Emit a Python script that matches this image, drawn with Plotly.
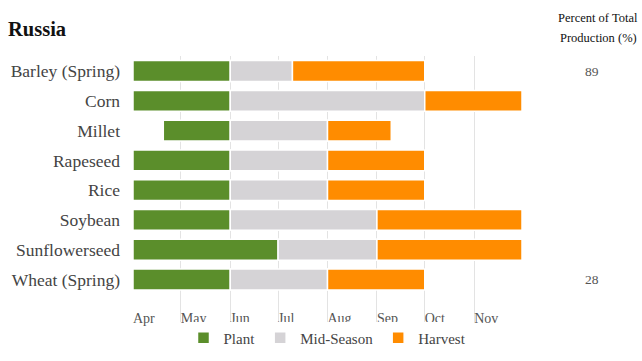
import plotly.graph_objects as go
import pandas as pd

crops = ["Barley (Spring)", "Corn", "Millet", "Rapeseed", "Rice", "Soybean", "Sunflowerseed", "Wheat (Spring)"]
plant_start = ["2023-04-01", "2023-04-01", "2023-04-20", "2023-04-01", "2023-04-01", "2023-04-01", "2023-04-01", "2023-04-01"]
plant_end   = ["2023-06-01", "2023-06-01", "2023-06-01", "2023-06-01", "2023-06-01", "2023-06-01", "2023-07-01", "2023-06-01"]
mid_end     = ["2023-07-10", "2023-10-01", "2023-08-01", "2023-08-01", "2023-08-01", "2023-09-01", "2023-09-01", "2023-08-01"]
harvest_end = ["2023-10-01", "2023-12-01", "2023-09-10", "2023-10-01", "2023-10-01", "2023-12-01", "2023-12-01", "2023-10-01"]
percent = {"Barley (Spring)": "89", "Wheat (Spring)": "28"}

month_ticks = ["2023-04-01", "2023-05-01", "2023-06-01", "2023-07-01", "2023-08-01",
               "2023-09-01", "2023-10-01", "2023-11-01", "2023-12-01"]
month_labels = ["Apr", "May", "Jun", "Jul", "Aug", "Sep", "Oct", "Nov", ""]

phases = [
    ("Plant", plant_start, plant_end, "#5b8e2b"),
    ("Mid-Season", plant_end, mid_end, "#d5d3d6"),
    ("Harvest", mid_end, harvest_end, "#ff8c00"),
]

fig = go.Figure()
for name, starts, ends, color in phases:
    s = pd.to_datetime(starts)
    e = pd.to_datetime(ends)
    dur = [(b - a).total_seconds() * 1000 for a, b in zip(s, e)]
    fig.add_trace(go.Bar(
        y=crops, x=dur, base=starts, orientation="h", name=name,
        marker=dict(color=color, line=dict(color="white", width=1.5)),
        width=0.7, hoverinfo="skip",
    ))

serif = "Liberation Serif, Times New Roman, serif"
fig.update_layout(
    width=642, height=361,
    margin=dict(l=133, r=120, t=56, b=32),
    paper_bgcolor="white", plot_bgcolor="white",
    barmode="overlay",
    font=dict(family=serif, color="#444"),
    showlegend=True,
    legend=dict(orientation="h", x=0.5, xanchor="center", yref="container",
                y=1 - 338 / 361, yanchor="middle",
                font=dict(family=serif, size=15, color="#444"), traceorder="normal",
                itemwidth=30, tracegroupgap=0),
    title=dict(text="<b>Russia</b>", x=8 / 642, xanchor="left", y=1 - 29 / 361, yanchor="middle",
               font=dict(family=serif, size=20.5, color="#111")),
)
fig.update_xaxes(
    type="date", range=["2023-04-01", "2023-12-01"],
    tickvals=month_ticks, ticktext=month_labels,
    ticklabelposition="outside right", ticks="", ticklabelstandoff=-14,
    showgrid=True, gridcolor="#e3e3e3", gridwidth=1,
    zeroline=False, showline=False, automargin=False,
    tickfont=dict(family=serif, size=14, color="#555"),
)
fig.update_yaxes(
    type="category", categoryorder="array", categoryarray=crops,
    range=[8.41, -0.505], automargin=False,
    showgrid=False, zeroline=False, showline=False,
    ticks="", ticklabelstandoff=12,
    tickfont=dict(family=serif, size=17.5, color="#444"),
)

fig.add_annotation(xref="paper", yref="paper", x=(598 - 133) / 389, y=1 + (56 - 18) / 265,
                   text="Percent of Total", showarrow=False, xanchor="center", yanchor="middle",
                   font=dict(family=serif, size=12.5, color="#111"))
fig.add_annotation(xref="paper", yref="paper", x=(598 - 133) / 389, y=1 + (56 - 38) / 265,
                   text="Production (%)", showarrow=False, xanchor="center", yanchor="middle",
                   font=dict(family=serif, size=12.5, color="#111"))
for crop, val in percent.items():
    fig.add_annotation(xref="paper", yref="y", x=(592 - 133) / 389, y=crop, text=val,
                       showarrow=False, xanchor="center", yanchor="middle",
                       font=dict(family=serif, size=13.5, color="#555"))

fig.write_html("out.html", config={"displayModeBar": False},
               post_script="document.body.style.margin='0';")
